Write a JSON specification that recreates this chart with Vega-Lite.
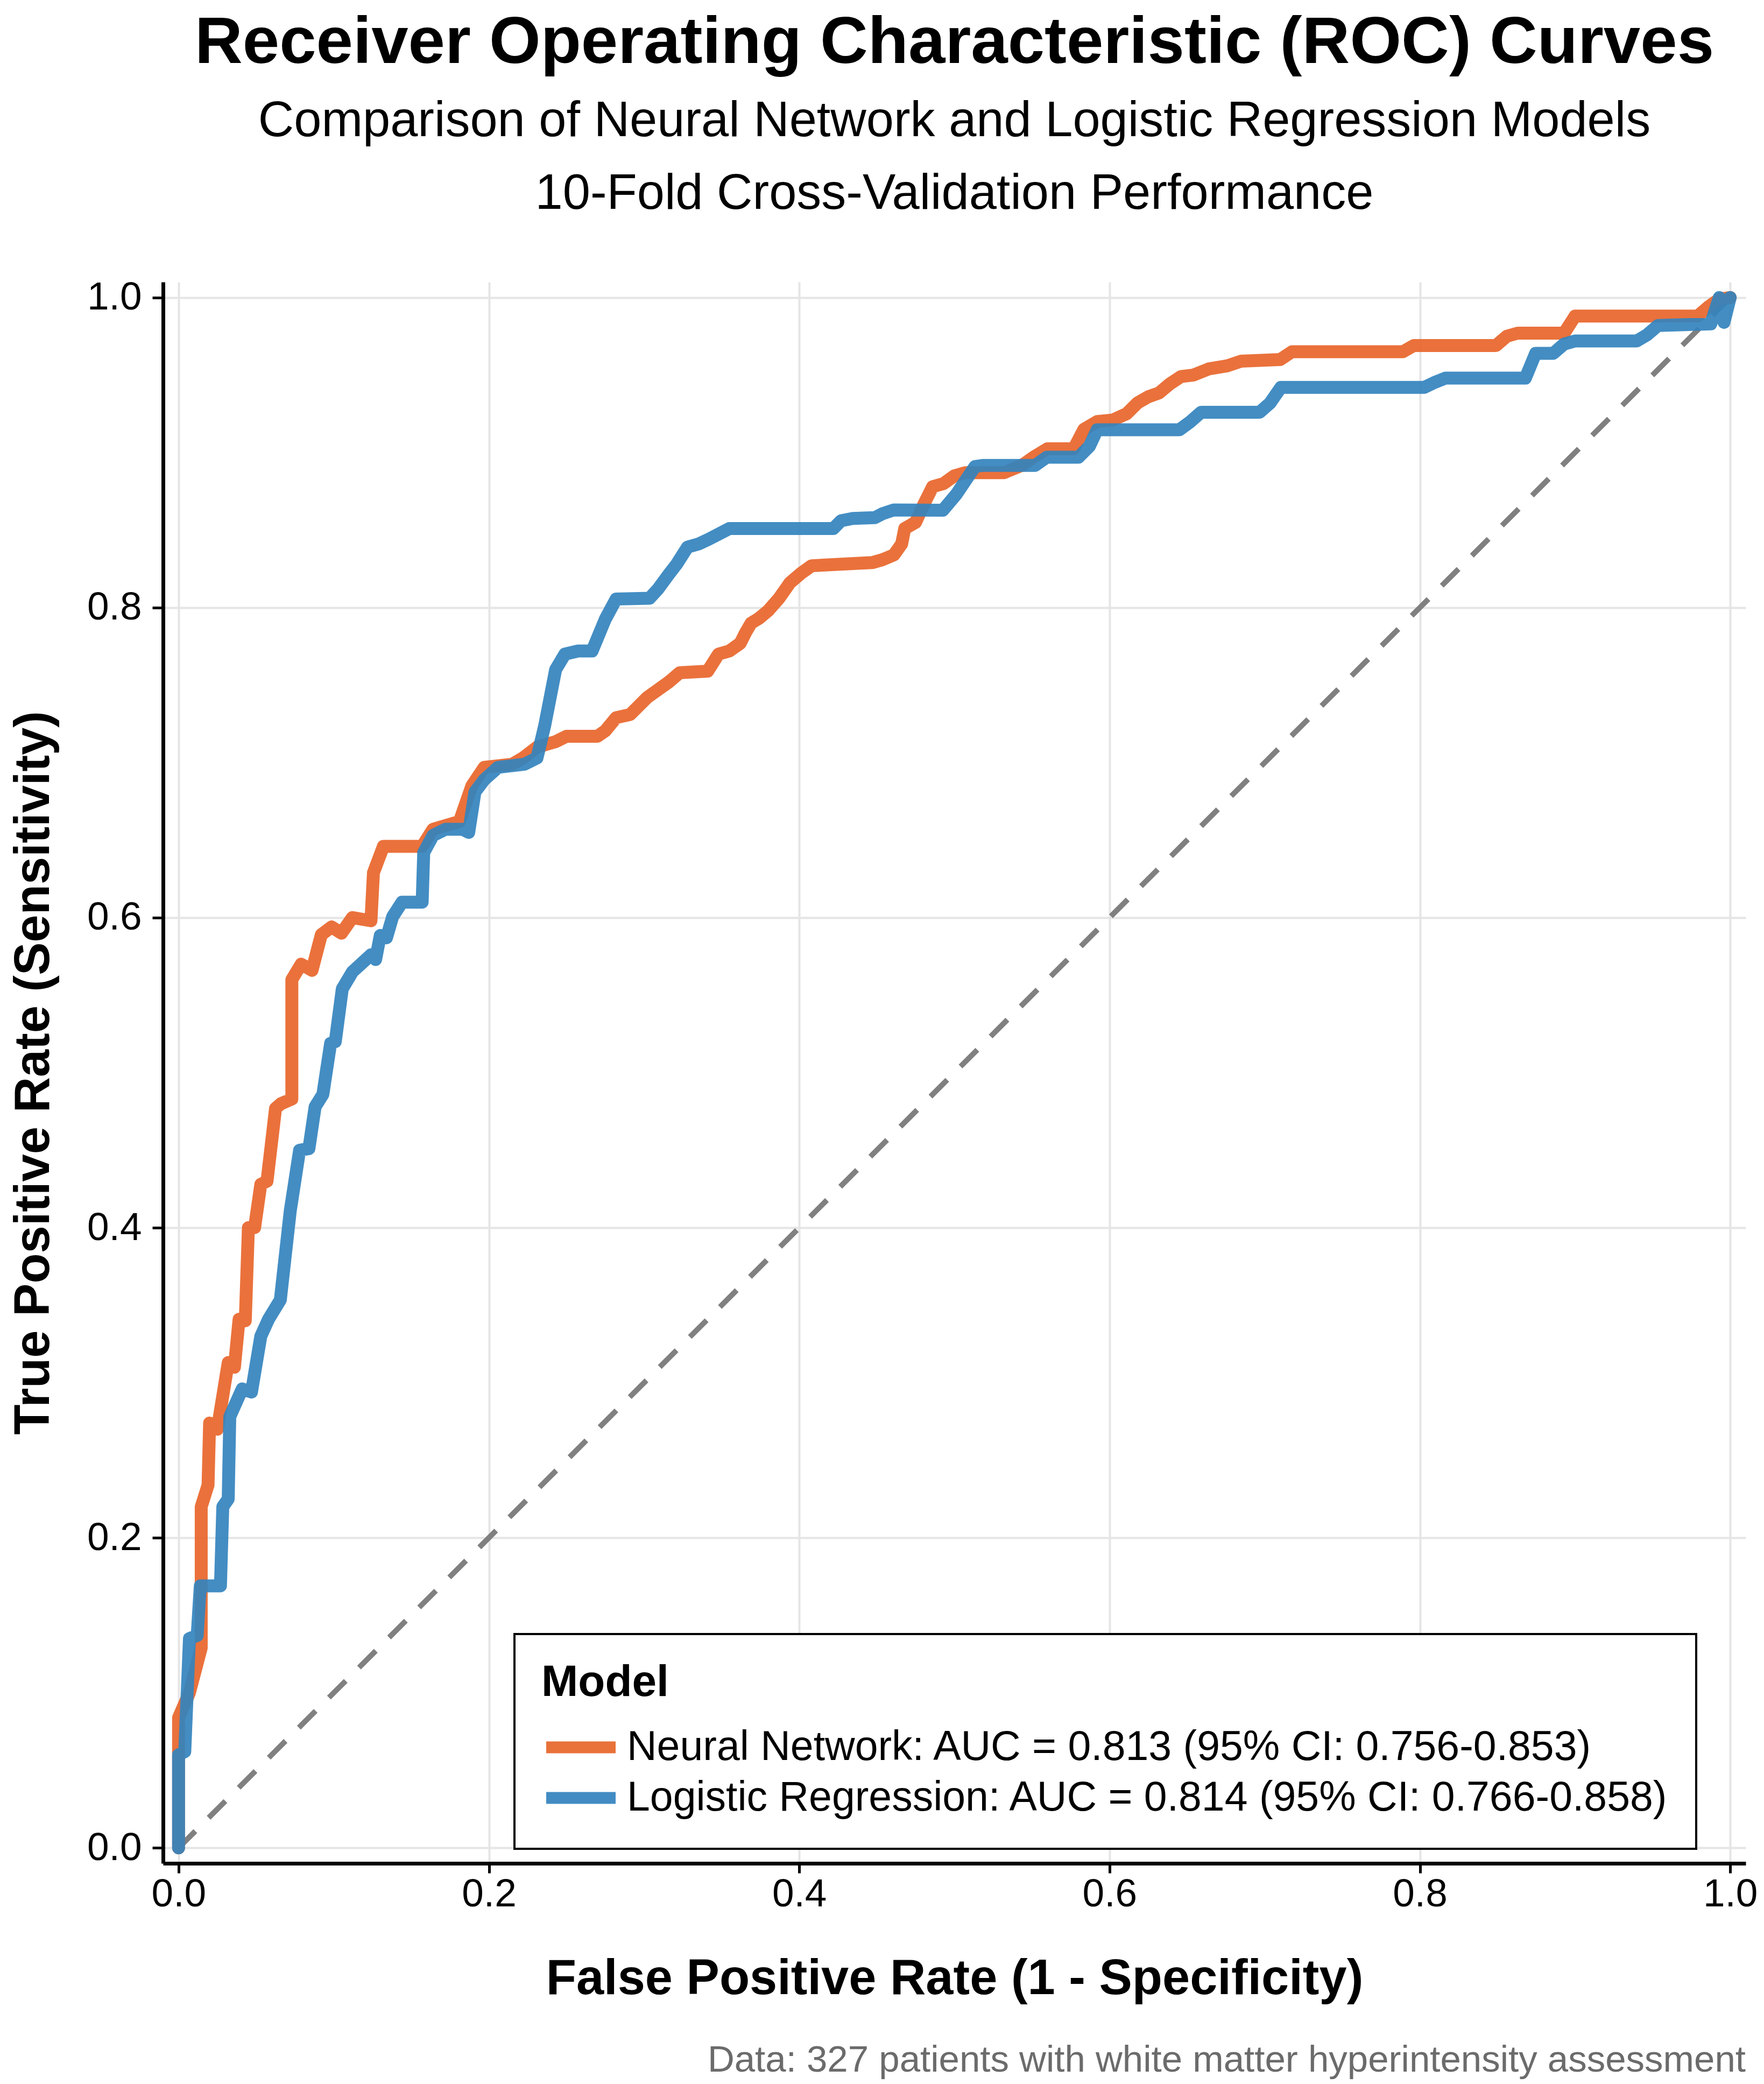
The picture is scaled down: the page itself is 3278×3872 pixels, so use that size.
{
  "$schema": "https://vega.github.io/schema/vega-lite/v6.json",
  "background": "white",
  "padding": {"left": 16, "top": 18, "right": 0, "bottom": 0},
  "config": {
    "font": "Liberation Sans",
    "view": {"stroke": null},
    "axis": {
      "domainColor": "black", "domainWidth": 7,
      "tickColor": "black", "tickWidth": 5, "tickSize": 20,
      "labelFont": "Liberation Sans", "labelFontSize": 73, "labelColor": "black", "labelPadding": 20,
      "gridColor": "#e5e5e5", "gridWidth": 4,
      "titleFont": "Liberation Sans", "titleFontSize": 92, "titleFontWeight": "bold", "titleColor": "black"
    },
    "axisX": {"titlePadding": 75, "labelPadding": 3, "tickSize": 18},
    "axisY": {"titlePadding": 52},
    "legend": {"strokeWidth": 4}
  },
  "datasets": {
    "diag": [{"fpr": 0, "tpr": 0}, {"fpr": 1, "tpr": 1}],
    "roc": [
      {"model": "Neural Network", "i": 0, "fpr": 0, "tpr": 0},
      {"model": "Neural Network", "i": 1, "fpr": 0, "tpr": 0.084},
      {"model": "Neural Network", "i": 2, "fpr": 0.007, "tpr": 0.1},
      {"model": "Neural Network", "i": 3, "fpr": 0.0146, "tpr": 0.129},
      {"model": "Neural Network", "i": 4, "fpr": 0.0146, "tpr": 0.22},
      {"model": "Neural Network", "i": 5, "fpr": 0.019, "tpr": 0.234},
      {"model": "Neural Network", "i": 6, "fpr": 0.02, "tpr": 0.274},
      {"model": "Neural Network", "i": 7, "fpr": 0.025, "tpr": 0.27},
      {"model": "Neural Network", "i": 8, "fpr": 0.032, "tpr": 0.313},
      {"model": "Neural Network", "i": 9, "fpr": 0.036, "tpr": 0.31},
      {"model": "Neural Network", "i": 10, "fpr": 0.039, "tpr": 0.341},
      {"model": "Neural Network", "i": 11, "fpr": 0.043, "tpr": 0.34},
      {"model": "Neural Network", "i": 12, "fpr": 0.045, "tpr": 0.4},
      {"model": "Neural Network", "i": 13, "fpr": 0.049, "tpr": 0.4},
      {"model": "Neural Network", "i": 14, "fpr": 0.053, "tpr": 0.428},
      {"model": "Neural Network", "i": 15, "fpr": 0.057, "tpr": 0.43},
      {"model": "Neural Network", "i": 16, "fpr": 0.0625, "tpr": 0.477},
      {"model": "Neural Network", "i": 17, "fpr": 0.066, "tpr": 0.48},
      {"model": "Neural Network", "i": 18, "fpr": 0.073, "tpr": 0.483},
      {"model": "Neural Network", "i": 19, "fpr": 0.073, "tpr": 0.56},
      {"model": "Neural Network", "i": 20, "fpr": 0.079, "tpr": 0.57},
      {"model": "Neural Network", "i": 21, "fpr": 0.086, "tpr": 0.566},
      {"model": "Neural Network", "i": 22, "fpr": 0.092, "tpr": 0.589},
      {"model": "Neural Network", "i": 23, "fpr": 0.0986, "tpr": 0.594},
      {"model": "Neural Network", "i": 24, "fpr": 0.105, "tpr": 0.59},
      {"model": "Neural Network", "i": 25, "fpr": 0.112, "tpr": 0.6},
      {"model": "Neural Network", "i": 26, "fpr": 0.124, "tpr": 0.598},
      {"model": "Neural Network", "i": 27, "fpr": 0.1256, "tpr": 0.629},
      {"model": "Neural Network", "i": 28, "fpr": 0.132, "tpr": 0.646},
      {"model": "Neural Network", "i": 29, "fpr": 0.157, "tpr": 0.646},
      {"model": "Neural Network", "i": 30, "fpr": 0.164, "tpr": 0.657},
      {"model": "Neural Network", "i": 31, "fpr": 0.181, "tpr": 0.662},
      {"model": "Neural Network", "i": 32, "fpr": 0.189, "tpr": 0.685},
      {"model": "Neural Network", "i": 33, "fpr": 0.197, "tpr": 0.697},
      {"model": "Neural Network", "i": 34, "fpr": 0.215, "tpr": 0.699},
      {"model": "Neural Network", "i": 35, "fpr": 0.222, "tpr": 0.703},
      {"model": "Neural Network", "i": 36, "fpr": 0.231, "tpr": 0.71},
      {"model": "Neural Network", "i": 37, "fpr": 0.243, "tpr": 0.7135},
      {"model": "Neural Network", "i": 38, "fpr": 0.25, "tpr": 0.717},
      {"model": "Neural Network", "i": 39, "fpr": 0.27, "tpr": 0.717},
      {"model": "Neural Network", "i": 40, "fpr": 0.275, "tpr": 0.7205},
      {"model": "Neural Network", "i": 41, "fpr": 0.282, "tpr": 0.729},
      {"model": "Neural Network", "i": 42, "fpr": 0.291, "tpr": 0.731},
      {"model": "Neural Network", "i": 43, "fpr": 0.302, "tpr": 0.742},
      {"model": "Neural Network", "i": 44, "fpr": 0.309, "tpr": 0.747},
      {"model": "Neural Network", "i": 45, "fpr": 0.316, "tpr": 0.752},
      {"model": "Neural Network", "i": 46, "fpr": 0.323, "tpr": 0.758},
      {"model": "Neural Network", "i": 47, "fpr": 0.341, "tpr": 0.759},
      {"model": "Neural Network", "i": 48, "fpr": 0.348, "tpr": 0.77},
      {"model": "Neural Network", "i": 49, "fpr": 0.355, "tpr": 0.772},
      {"model": "Neural Network", "i": 50, "fpr": 0.362, "tpr": 0.777},
      {"model": "Neural Network", "i": 51, "fpr": 0.3655, "tpr": 0.784},
      {"model": "Neural Network", "i": 52, "fpr": 0.369, "tpr": 0.79},
      {"model": "Neural Network", "i": 53, "fpr": 0.374, "tpr": 0.793},
      {"model": "Neural Network", "i": 54, "fpr": 0.38, "tpr": 0.798},
      {"model": "Neural Network", "i": 55, "fpr": 0.387, "tpr": 0.806},
      {"model": "Neural Network", "i": 56, "fpr": 0.394, "tpr": 0.816},
      {"model": "Neural Network", "i": 57, "fpr": 0.401, "tpr": 0.822},
      {"model": "Neural Network", "i": 58, "fpr": 0.408, "tpr": 0.827},
      {"model": "Neural Network", "i": 59, "fpr": 0.447, "tpr": 0.829},
      {"model": "Neural Network", "i": 60, "fpr": 0.454, "tpr": 0.831},
      {"model": "Neural Network", "i": 61, "fpr": 0.461, "tpr": 0.834},
      {"model": "Neural Network", "i": 62, "fpr": 0.466, "tpr": 0.841},
      {"model": "Neural Network", "i": 63, "fpr": 0.468, "tpr": 0.851},
      {"model": "Neural Network", "i": 64, "fpr": 0.475, "tpr": 0.855},
      {"model": "Neural Network", "i": 65, "fpr": 0.48, "tpr": 0.866},
      {"model": "Neural Network", "i": 66, "fpr": 0.486, "tpr": 0.878},
      {"model": "Neural Network", "i": 67, "fpr": 0.493, "tpr": 0.88},
      {"model": "Neural Network", "i": 68, "fpr": 0.5, "tpr": 0.885},
      {"model": "Neural Network", "i": 69, "fpr": 0.507, "tpr": 0.887},
      {"model": "Neural Network", "i": 70, "fpr": 0.532, "tpr": 0.887},
      {"model": "Neural Network", "i": 71, "fpr": 0.544, "tpr": 0.892},
      {"model": "Neural Network", "i": 72, "fpr": 0.551, "tpr": 0.897},
      {"model": "Neural Network", "i": 73, "fpr": 0.56, "tpr": 0.9025},
      {"model": "Neural Network", "i": 74, "fpr": 0.577, "tpr": 0.9025},
      {"model": "Neural Network", "i": 75, "fpr": 0.5835, "tpr": 0.915},
      {"model": "Neural Network", "i": 76, "fpr": 0.592, "tpr": 0.92},
      {"model": "Neural Network", "i": 77, "fpr": 0.602, "tpr": 0.921},
      {"model": "Neural Network", "i": 78, "fpr": 0.611, "tpr": 0.925},
      {"model": "Neural Network", "i": 79, "fpr": 0.618, "tpr": 0.932},
      {"model": "Neural Network", "i": 80, "fpr": 0.625, "tpr": 0.936},
      {"model": "Neural Network", "i": 81, "fpr": 0.632, "tpr": 0.9385},
      {"model": "Neural Network", "i": 82, "fpr": 0.6385, "tpr": 0.944},
      {"model": "Neural Network", "i": 83, "fpr": 0.646, "tpr": 0.949},
      {"model": "Neural Network", "i": 84, "fpr": 0.654, "tpr": 0.95},
      {"model": "Neural Network", "i": 85, "fpr": 0.664, "tpr": 0.954},
      {"model": "Neural Network", "i": 86, "fpr": 0.676, "tpr": 0.956},
      {"model": "Neural Network", "i": 87, "fpr": 0.685, "tpr": 0.959},
      {"model": "Neural Network", "i": 88, "fpr": 0.71, "tpr": 0.96},
      {"model": "Neural Network", "i": 89, "fpr": 0.7175, "tpr": 0.965},
      {"model": "Neural Network", "i": 90, "fpr": 0.789, "tpr": 0.965},
      {"model": "Neural Network", "i": 91, "fpr": 0.796, "tpr": 0.969},
      {"model": "Neural Network", "i": 92, "fpr": 0.849, "tpr": 0.969},
      {"model": "Neural Network", "i": 93, "fpr": 0.856, "tpr": 0.975},
      {"model": "Neural Network", "i": 94, "fpr": 0.863, "tpr": 0.977},
      {"model": "Neural Network", "i": 95, "fpr": 0.893, "tpr": 0.977},
      {"model": "Neural Network", "i": 96, "fpr": 0.9, "tpr": 0.988},
      {"model": "Neural Network", "i": 97, "fpr": 0.979, "tpr": 0.988},
      {"model": "Neural Network", "i": 98, "fpr": 0.986, "tpr": 0.994},
      {"model": "Neural Network", "i": 99, "fpr": 0.993, "tpr": 0.999},
      {"model": "Neural Network", "i": 100, "fpr": 1, "tpr": 1},
      {"model": "Logistic Regression", "i": 0, "fpr": 0, "tpr": 0},
      {"model": "Logistic Regression", "i": 1, "fpr": 0, "tpr": 0.06},
      {"model": "Logistic Regression", "i": 2, "fpr": 0.004, "tpr": 0.062},
      {"model": "Logistic Regression", "i": 3, "fpr": 0.007, "tpr": 0.135},
      {"model": "Logistic Regression", "i": 4, "fpr": 0.012, "tpr": 0.137},
      {"model": "Logistic Regression", "i": 5, "fpr": 0.014, "tpr": 0.169},
      {"model": "Logistic Regression", "i": 6, "fpr": 0.027, "tpr": 0.169},
      {"model": "Logistic Regression", "i": 7, "fpr": 0.0285, "tpr": 0.22},
      {"model": "Logistic Regression", "i": 8, "fpr": 0.032, "tpr": 0.225},
      {"model": "Logistic Regression", "i": 9, "fpr": 0.033, "tpr": 0.278},
      {"model": "Logistic Regression", "i": 10, "fpr": 0.041, "tpr": 0.296},
      {"model": "Logistic Regression", "i": 11, "fpr": 0.047, "tpr": 0.294},
      {"model": "Logistic Regression", "i": 12, "fpr": 0.053, "tpr": 0.33},
      {"model": "Logistic Regression", "i": 13, "fpr": 0.058, "tpr": 0.341},
      {"model": "Logistic Regression", "i": 14, "fpr": 0.0656, "tpr": 0.3535},
      {"model": "Logistic Regression", "i": 15, "fpr": 0.072, "tpr": 0.411},
      {"model": "Logistic Regression", "i": 16, "fpr": 0.078, "tpr": 0.45},
      {"model": "Logistic Regression", "i": 17, "fpr": 0.084, "tpr": 0.451},
      {"model": "Logistic Regression", "i": 18, "fpr": 0.088, "tpr": 0.478},
      {"model": "Logistic Regression", "i": 19, "fpr": 0.093, "tpr": 0.486},
      {"model": "Logistic Regression", "i": 20, "fpr": 0.098, "tpr": 0.519},
      {"model": "Logistic Regression", "i": 21, "fpr": 0.101, "tpr": 0.52},
      {"model": "Logistic Regression", "i": 22, "fpr": 0.1055, "tpr": 0.554},
      {"model": "Logistic Regression", "i": 23, "fpr": 0.112, "tpr": 0.565},
      {"model": "Logistic Regression", "i": 24, "fpr": 0.124, "tpr": 0.576},
      {"model": "Logistic Regression", "i": 25, "fpr": 0.127, "tpr": 0.573},
      {"model": "Logistic Regression", "i": 26, "fpr": 0.13, "tpr": 0.5885},
      {"model": "Logistic Regression", "i": 27, "fpr": 0.134, "tpr": 0.587},
      {"model": "Logistic Regression", "i": 28, "fpr": 0.138, "tpr": 0.6007},
      {"model": "Logistic Regression", "i": 29, "fpr": 0.144, "tpr": 0.61},
      {"model": "Logistic Regression", "i": 30, "fpr": 0.157, "tpr": 0.61},
      {"model": "Logistic Regression", "i": 31, "fpr": 0.158, "tpr": 0.642},
      {"model": "Logistic Regression", "i": 32, "fpr": 0.164, "tpr": 0.653},
      {"model": "Logistic Regression", "i": 33, "fpr": 0.172, "tpr": 0.657},
      {"model": "Logistic Regression", "i": 34, "fpr": 0.183, "tpr": 0.657},
      {"model": "Logistic Regression", "i": 35, "fpr": 0.187, "tpr": 0.655},
      {"model": "Logistic Regression", "i": 36, "fpr": 0.191, "tpr": 0.681},
      {"model": "Logistic Regression", "i": 37, "fpr": 0.197, "tpr": 0.689},
      {"model": "Logistic Regression", "i": 38, "fpr": 0.206, "tpr": 0.697},
      {"model": "Logistic Regression", "i": 39, "fpr": 0.223, "tpr": 0.699},
      {"model": "Logistic Regression", "i": 40, "fpr": 0.231, "tpr": 0.703},
      {"model": "Logistic Regression", "i": 41, "fpr": 0.236, "tpr": 0.724},
      {"model": "Logistic Regression", "i": 42, "fpr": 0.243, "tpr": 0.76},
      {"model": "Logistic Regression", "i": 43, "fpr": 0.249, "tpr": 0.77},
      {"model": "Logistic Regression", "i": 44, "fpr": 0.2575, "tpr": 0.772},
      {"model": "Logistic Regression", "i": 45, "fpr": 0.2665, "tpr": 0.772},
      {"model": "Logistic Regression", "i": 46, "fpr": 0.275, "tpr": 0.7925},
      {"model": "Logistic Regression", "i": 47, "fpr": 0.282, "tpr": 0.8055},
      {"model": "Logistic Regression", "i": 48, "fpr": 0.3035, "tpr": 0.806},
      {"model": "Logistic Regression", "i": 49, "fpr": 0.309, "tpr": 0.812},
      {"model": "Logistic Regression", "i": 50, "fpr": 0.316, "tpr": 0.8215},
      {"model": "Logistic Regression", "i": 51, "fpr": 0.321, "tpr": 0.828},
      {"model": "Logistic Regression", "i": 52, "fpr": 0.328, "tpr": 0.839},
      {"model": "Logistic Regression", "i": 53, "fpr": 0.335, "tpr": 0.841},
      {"model": "Logistic Regression", "i": 54, "fpr": 0.3415, "tpr": 0.844},
      {"model": "Logistic Regression", "i": 55, "fpr": 0.355, "tpr": 0.851},
      {"model": "Logistic Regression", "i": 56, "fpr": 0.422, "tpr": 0.851},
      {"model": "Logistic Regression", "i": 57, "fpr": 0.427, "tpr": 0.856},
      {"model": "Logistic Regression", "i": 58, "fpr": 0.4345, "tpr": 0.8575},
      {"model": "Logistic Regression", "i": 59, "fpr": 0.4487, "tpr": 0.858},
      {"model": "Logistic Regression", "i": 60, "fpr": 0.454, "tpr": 0.8607},
      {"model": "Logistic Regression", "i": 61, "fpr": 0.461, "tpr": 0.863},
      {"model": "Logistic Regression", "i": 62, "fpr": 0.4926, "tpr": 0.8628},
      {"model": "Logistic Regression", "i": 63, "fpr": 0.5012, "tpr": 0.873},
      {"model": "Logistic Regression", "i": 64, "fpr": 0.5133, "tpr": 0.891},
      {"model": "Logistic Regression", "i": 65, "fpr": 0.518, "tpr": 0.8917},
      {"model": "Logistic Regression", "i": 66, "fpr": 0.552, "tpr": 0.8917},
      {"model": "Logistic Regression", "i": 67, "fpr": 0.5595, "tpr": 0.897},
      {"model": "Logistic Regression", "i": 68, "fpr": 0.58, "tpr": 0.897},
      {"model": "Logistic Regression", "i": 69, "fpr": 0.587, "tpr": 0.904},
      {"model": "Logistic Regression", "i": 70, "fpr": 0.592, "tpr": 0.9147},
      {"model": "Logistic Regression", "i": 71, "fpr": 0.645, "tpr": 0.9147},
      {"model": "Logistic Regression", "i": 72, "fpr": 0.652, "tpr": 0.9198},
      {"model": "Logistic Regression", "i": 73, "fpr": 0.659, "tpr": 0.926},
      {"model": "Logistic Regression", "i": 74, "fpr": 0.6967, "tpr": 0.926},
      {"model": "Logistic Regression", "i": 75, "fpr": 0.7035, "tpr": 0.932},
      {"model": "Logistic Regression", "i": 76, "fpr": 0.7104, "tpr": 0.942},
      {"model": "Logistic Regression", "i": 77, "fpr": 0.8027, "tpr": 0.942},
      {"model": "Logistic Regression", "i": 78, "fpr": 0.809, "tpr": 0.945},
      {"model": "Logistic Regression", "i": 79, "fpr": 0.8164, "tpr": 0.948},
      {"model": "Logistic Regression", "i": 80, "fpr": 0.868, "tpr": 0.948},
      {"model": "Logistic Regression", "i": 81, "fpr": 0.8746, "tpr": 0.964},
      {"model": "Logistic Regression", "i": 82, "fpr": 0.886, "tpr": 0.964},
      {"model": "Logistic Regression", "i": 83, "fpr": 0.893, "tpr": 0.97},
      {"model": "Logistic Regression", "i": 84, "fpr": 0.9, "tpr": 0.972},
      {"model": "Logistic Regression", "i": 85, "fpr": 0.9398, "tpr": 0.972},
      {"model": "Logistic Regression", "i": 86, "fpr": 0.9465, "tpr": 0.976},
      {"model": "Logistic Regression", "i": 87, "fpr": 0.9535, "tpr": 0.982},
      {"model": "Logistic Regression", "i": 88, "fpr": 0.9875, "tpr": 0.983},
      {"model": "Logistic Regression", "i": 89, "fpr": 0.993, "tpr": 1.0},
      {"model": "Logistic Regression", "i": 90, "fpr": 0.996, "tpr": 0.984},
      {"model": "Logistic Regression", "i": 91, "fpr": 1, "tpr": 1}
    ]
  },
  "title": {
    "text": "Data: 327 patients with white matter hyperintensity assessment",
    "orient": "bottom", "anchor": "end", "frame": "group",
    "font": "Liberation Sans", "fontSize": 69, "fontWeight": "normal", "color": "#6b6b6b",
    "offset": 72
  },
  "resolve": {"legend": {"color": "independent"}},
  "vconcat": [
    {
      "width": 2941,
      "height": 2938,
      "title": {
        "text": "Receiver Operating Characteristic (ROC) Curves",
        "subtitle": ["Comparison of Neural Network and Logistic Regression Models", "10-Fold Cross-Validation Performance"],
        "anchor": "middle", "frame": "group",
        "font": "Liberation Sans", "fontSize": 123, "fontWeight": "bold", "color": "black",
        "subtitleFont": "Liberation Sans", "subtitleFontSize": 92, "subtitleColor": "black",
        "subtitlePadding": 37, "subtitleLineHeight": 135,
        "offset": 110
      },
      "encoding": {
        "x": {
          "field": "fpr", "type": "quantitative",
          "scale": {"domain": [-0.01, 1.01], "nice": false, "zero": false},
          "axis": {"title": "False Positive Rate (1 - Specificity)", "values": [0, 0.2, 0.4, 0.6, 0.8, 1], "format": ".1f"}
        },
        "y": {
          "field": "tpr", "type": "quantitative",
          "scale": {"domain": [-0.01, 1.01], "nice": false, "zero": false},
          "axis": {"title": "True Positive Rate (Sensitivity)", "values": [0, 0.2, 0.4, 0.6, 0.8, 1], "format": ".1f"}
        }
      },
      "layer": [
        {
          "data": {"name": "diag"},
          "mark": {"type": "line", "color": "#808080", "strokeWidth": 10, "strokeDash": [44, 35]}
        },
        {
          "data": {"name": "roc"},
          "transform": [{"filter": "datum.model == 'Neural Network'"}],
          "mark": {"type": "line", "strokeWidth": 24, "strokeCap": "round", "strokeJoin": "round", "opacity": 0.92},
          "encoding": {
            "order": {"field": "i", "type": "quantitative"},
            "color": {
              "field": "model", "type": "nominal",
              "scale": {"domain": ["Neural Network", "Logistic Regression"], "range": ["#E8652A", "#3383BE"]},
              "legend": {
                "title": "Model", "orient": "none", "legendX": 653, "legendY": 2512,
                "fillColor": "white", "strokeColor": "black", "padding": 50,
                "titleFont": "Liberation Sans", "titleFontSize": 82, "titleFontWeight": "bold", "titleColor": "black", "titlePadding": 35, "titleLimit": 2000,
                "labelFont": "Liberation Sans", "labelFontSize": 77, "labelColor": "black", "labelLimit": 3000,
                "symbolType": "M-2,0H2", "symbolSize": 4160, "symbolStrokeWidth": 22, "symbolOffset": 30, "labelOffset": 42, "rowPadding": 5,
                "labelExpr": "datum.label == 'Neural Network' ? 'Neural Network: AUC = 0.813 (95% CI: 0.756-0.853)' : 'Logistic Regression: AUC = 0.814 (95% CI: 0.766-0.858)'"
              }
            }
          }
        },
        {
          "data": {"name": "roc"},
          "transform": [{"filter": "datum.model == 'Logistic Regression'"}],
          "mark": {"type": "line", "strokeWidth": 24, "strokeCap": "round", "strokeJoin": "round", "opacity": 0.92},
          "encoding": {
            "order": {"field": "i", "type": "quantitative"},
            "color": {"field": "model", "type": "nominal"}
          }
        }
      ]
    }
  ]
}
